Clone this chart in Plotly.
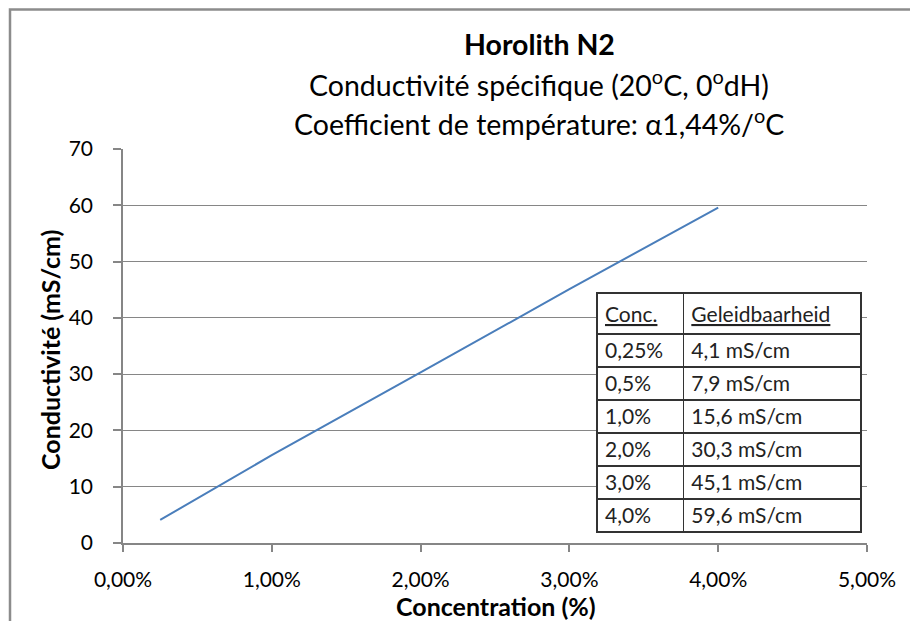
import plotly.graph_objects as go

conc = [0.0025, 0.005, 0.01, 0.02, 0.03, 0.04]
cond = [4.1, 7.9, 15.6, 30.3, 45.1, 59.6]
conc_labels = ["0,25%", "0,5%", "1,0%", "2,0%", "3,0%", "4,0%"]
cond_labels = ["4,1 mS/cm", "7,9 mS/cm", "15,6 mS/cm", "30,3 mS/cm", "45,1 mS/cm", "59,6 mS/cm"]
table_header = ["<u>Conc.</u>", "<u>Geleidbaarheid</u>"]
title_lines = [
    "<b>Horolith N2</b>",
    "Conductivité spécifique (20<sup>o</sup>C, 0<sup>o</sup>dH)",
    "Coefficient de température: α1,44%/<sup>o</sup>C",
]

FONT = "Lato"
OFF = 8  # page body margin
W, H = 918 - OFF, 621 - OFF
# desired plot area in page pixels: x 123..867, y 149..543
L, T = 123 - OFF, 149 - OFF
R = W - (867 - OFF)
B = H - (543 - OFF)
pw, ph = W - L - R, H - T - B

def px(x):
    return (x - OFF - L) / pw

def py(y):
    return (H - B - (y - OFF)) / ph

fig = go.Figure()
fig.add_trace(go.Scatter(x=conc, y=cond, mode="lines",
                         line=dict(color="#4A7EBB", width=2), showlegend=False))

fig.add_trace(go.Table(
    domain=dict(x=[px(597), px(861)], y=[0, py(293)]),
    columnwidth=[86, 177],
    header=dict(values=table_header, align="left", height=32,
                fill_color="white", line=dict(color="#333333", width=1.5),
                font=dict(family=FONT, size=21, color="#222222")),
    cells=dict(values=[conc_labels, cond_labels], align="left", height=33,
               fill_color="white", line=dict(color="#333333", width=1.5),
               font=dict(family=FONT, size=21, color="#222222")),
))

for t, yy in zip(title_lines, [44, 83, 122]):
    fig.add_annotation(text=t, xref="paper", yref="paper", x=px(539), y=py(yy),
                       showarrow=False, xanchor="center", yanchor="middle",
                       font=dict(family=FONT, size=28.5, color="#000000"))

fig.add_annotation(text="<b>Conductivité (mS/cm)</b>", xref="paper", yref="paper",
                   x=px(50), y=py(350), textangle=-90, showarrow=False,
                   xanchor="center", yanchor="middle",
                   font=dict(family=FONT, size=25, color="#000000"))
fig.add_annotation(text="<b>Concentration (%)</b>", xref="paper", yref="paper",
                   x=px(496), y=py(606), showarrow=False,
                   xanchor="center", yanchor="middle",
                   font=dict(family=FONT, size=25, color="#000000"))

fig.add_shape(type="rect", xref="paper", yref="paper",
              x0=px(10), x1=px(916), y0=py(660), y1=py(9.5),
              line=dict(color="#8C8C8C", width=2.5), layer="below")

fig.update_layout(
    width=W, height=H, margin=dict(l=L, r=R, t=T, b=B),
    paper_bgcolor="white", plot_bgcolor="white",
    separators=", ",
    font=dict(family=FONT, size=21, color="#000000"),
    xaxis=dict(range=[0, 0.05], dtick=0.01, tickformat=".2%", showgrid=False,
               showline=True, linecolor="#868686", linewidth=1.5,
               ticks="outside", ticklen=7, tickcolor="#868686", tickwidth=1.5,
               zeroline=False, ticklabelstandoff=10),
    yaxis=dict(range=[0, 70], dtick=10, showgrid=True, gridcolor="#868686",
               gridwidth=1, showline=True, linecolor="#868686", linewidth=1.5,
               ticks="outside", ticklen=8, tickcolor="#868686", tickwidth=1.5,
               zeroline=False, ticklabelstandoff=16),
)

fig.write_html("out.html")
